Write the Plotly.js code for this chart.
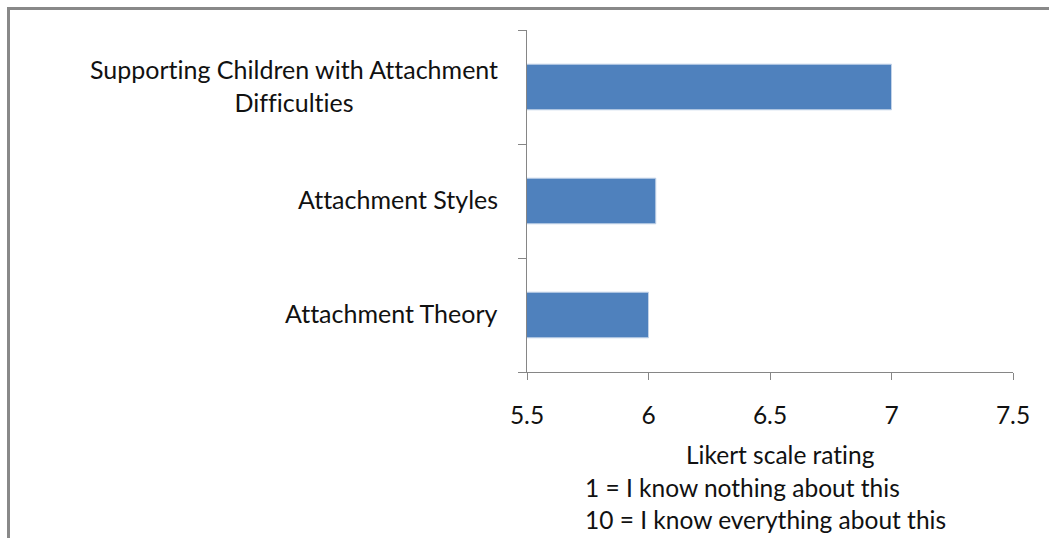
<!DOCTYPE html>
<html>
<head>
<meta charset="utf-8">
<script src="https://cdn.plot.ly/plotly-3.0.1.min.js"></script>
<style>
  html, body { margin: 0; padding: 0; background: #fff; }
  #wrap { position: relative; width: 1049px; height: 538px; overflow: hidden; }
  #chart { position: absolute; left: 0; top: 0; width: 1049px; height: 538px; }
  #frame { position: absolute; left: 7px; top: 7px; width: 1100px; height: 600px;
           border-left: 3px solid #898989; border-top: 3px solid #898989; pointer-events: none; }
  svg text { font-variant-ligatures: none; font-feature-settings: "liga" 0; }
</style>
</head>
<body>
<div id="wrap">
  <div id="chart"></div>
  <div id="frame"></div>
</div>
<script>
const categories = ["Attachment Theory", "Attachment Styles", "Supporting Children with Attachment Difficulties"];
const categoryLabels = ["Attachment Theory", "Attachment Styles", "Supporting Children with Attachment<br>Difficulties"];
const ratings = [6.0, 6.03, 7.0];
const xTickVals = [5.5, 6, 6.5, 7, 7.5];
const xTickText = ["5.5", "6", "6.5", "7", "7.5"];
const axisTitleLines = ["Likert scale rating", "1 = I know nothing about this", "10 = I know everything about this"];

const FONT = "Lato, 'Open Sans', 'Liberation Sans', sans-serif";
const AXIS = "#868686";
const TXT = "#111";
const FS = 24.5;

const trace = {
  type: "bar",
  orientation: "h",
  y: categories,
  x: ratings,
  marker: { color: "#4F81BD", line: { color: "#C3D3E8", width: 1 } },
  width: 0.4,
  cliponaxis: true,
  hovertemplate: "%{y}: %{x}<extra></extra>"
};

const annotations = categories.map((c, i) => ({
  xref: "paper", yref: "y", x: 0, y: c, xshift: -27, yshift: 2,
  xanchor: "right", yanchor: "middle", align: "center",
  text: categoryLabels[i], showarrow: false,
  font: { family: FONT, size: 25, color: TXT }
}));
annotations.push({
  xref: "paper", yref: "paper", x: 0.5206, y: 0, yshift: -82,
  xanchor: "center", yanchor: "middle", text: axisTitleLines[0], showarrow: false,
  font: { family: FONT, size: FS, color: TXT }
});
annotations.push({
  xref: "paper", yref: "paper", x: 0.1152, y: 0, yshift: -115,
  xanchor: "left", yanchor: "middle", text: axisTitleLines[1], showarrow: false,
  font: { family: FONT, size: FS, color: TXT }
});
annotations.push({
  xref: "paper", yref: "paper", x: 0.1152, y: 0, yshift: -147,
  xanchor: "left", yanchor: "middle", text: axisTitleLines[2], showarrow: false,
  font: { family: FONT, size: FS, color: TXT }
});

const layout = {
  width: 1049, height: 538,
  margin: { l: 527, r: 36, t: 30, b: 166, pad: 0 },
  paper_bgcolor: "rgba(0,0,0,0)",
  plot_bgcolor: "rgba(0,0,0,0)",
  showlegend: false,
  font: { family: FONT, size: FS, color: TXT },
  xaxis: {
    range: [5.5, 7.5],
    tickmode: "array",
    tickvals: xTickVals,
    ticktext: xTickText,
    showgrid: false, zeroline: false,
    showline: true, linecolor: AXIS, linewidth: 1,
    ticks: "outside", ticklen: 7, tickcolor: AXIS, tickwidth: 1,
    ticklabelstandoff: 15,
    tickfont: { family: FONT, size: FS, color: TXT }
  },
  yaxis: {
    type: "category",
    categoryorder: "array", categoryarray: categories,
    range: [-0.5, 2.5],
    showgrid: false, zeroline: false,
    showline: true, linecolor: AXIS, linewidth: 1,
    ticks: "outside", ticklen: 8, tickcolor: AXIS, tickwidth: 1,
    tickson: "boundaries",
    showticklabels: false
  },
  annotations: annotations
};

Plotly.newPlot("chart", [trace], layout, { displayModeBar: false, staticPlot: true });
</script>
</body>
</html>
